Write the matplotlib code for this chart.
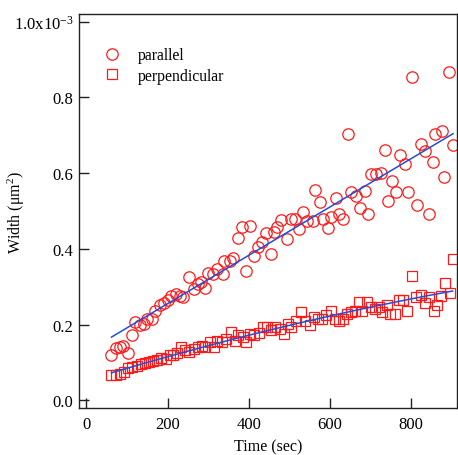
import numpy as np
import matplotlib

matplotlib.use("Agg")
import matplotlib.pyplot as plt

plt.rcParams["font.family"] = ["Liberation Serif", "DejaVu Serif"]
plt.rcParams["mathtext.fontset"] = "custom"
plt.rcParams["mathtext.rm"] = "Liberation Serif"
plt.rcParams["mathtext.it"] = "Liberation Serif:italic"

# parallel (circles), width in units of 1e-3 um^2
par_t = [62, 72, 82, 91, 103, 113, 121, 131, 142, 150, 162, 168, 181, 191, 200,
         209, 220, 230, 239, 253, 264, 274, 282, 293, 300, 311, 323, 336, 340, 353,
         362, 373, 383, 393, 402, 414, 422, 432, 443, 454, 463, 470, 480, 495, 503,
         515, 524, 534, 544, 558, 562, 575, 583, 594, 602, 614, 623, 633, 645, 652,
         663, 674, 686, 694, 701, 713, 725, 736, 742, 752, 762, 773, 785, 793, 803,
         814, 825, 833, 843, 854, 859, 876, 882, 892, 903]
par_w = [0.119, 0.138, 0.141, 0.145, 0.126, 0.173, 0.207, 0.200, 0.202, 0.215,
         0.215, 0.237, 0.252, 0.258, 0.264, 0.277, 0.281, 0.277, 0.274, 0.327,
         0.294, 0.308, 0.314, 0.297, 0.337, 0.334, 0.347, 0.334, 0.369, 0.367,
         0.375, 0.428, 0.459, 0.343, 0.460, 0.382, 0.404, 0.418, 0.441, 0.387,
         0.444, 0.459, 0.477, 0.426, 0.479, 0.479, 0.453, 0.498, 0.475, 0.475,
         0.556, 0.523, 0.479, 0.455, 0.484, 0.535, 0.492, 0.479, 0.703, 0.551,
         0.541, 0.507, 0.552, 0.492, 0.598, 0.599, 0.600, 0.662, 0.527, 0.580,
         0.549, 0.648, 0.624, 0.549, 0.855, 0.516, 0.677, 0.658, 0.492, 0.629,
         0.703, 0.712, 0.589, 0.866, 0.674]

# perpendicular (squares)
perp_t = [62, 72, 82, 92, 103, 113, 124, 134, 144, 154, 165, 175, 185, 195, 205,
          214, 224, 233, 242, 253, 264, 274, 284, 292, 304, 315, 323, 333, 344, 356,
          365, 374, 385, 393, 402, 414, 424, 435, 445, 455, 465, 476, 487, 496, 505,
          517, 528, 538, 550, 561, 571, 581, 591, 602, 612, 622, 633, 641, 652, 661,
          671, 680, 691, 700, 712, 721, 729, 740, 748, 761, 769, 781, 789, 802, 812,
          823, 833, 843, 856, 864, 873, 883, 896, 902]
perp_w = [0.066, 0.068, 0.070, 0.075, 0.085, 0.088, 0.092, 0.097, 0.098, 0.101,
          0.105, 0.108, 0.112, 0.110, 0.119, 0.120, 0.126, 0.141, 0.132, 0.127,
          0.136, 0.141, 0.145, 0.141, 0.154, 0.141, 0.158, 0.154, 0.163, 0.180,
          0.158, 0.173, 0.167, 0.154, 0.176, 0.173, 0.178, 0.193, 0.193, 0.185,
          0.193, 0.189, 0.176, 0.202, 0.193, 0.211, 0.233, 0.211, 0.198, 0.220,
          0.215, 0.215, 0.226, 0.235, 0.215, 0.211, 0.215, 0.229, 0.233, 0.237,
          0.261, 0.237, 0.261, 0.246, 0.242, 0.246, 0.233, 0.252, 0.229, 0.229,
          0.264, 0.264, 0.237, 0.328, 0.274, 0.279, 0.258, 0.273, 0.237, 0.251,
          0.277, 0.310, 0.283, 0.374]

x_ticks = [0, 200, 400, 600, 800]
y_ticks = [0.0, 0.2, 0.4, 0.6, 0.8, 1.0]
y_tick_labels = ["0.0", "0.2", "0.4", "0.6", "0.8", r"1.0x10$^{-3}$"]

red = "#ff1a1a"
blue = "#1f4fd6"

fig = plt.figure(figsize=(4.58, 4.56), dpi=100)
ax = fig.add_axes([0.1725, 0.103, 0.8255, 0.864])

ax.plot(par_t, par_w, "o", mfc="none", mec=red, ms=8.2, mew=0.9,
        label="parallel", zorder=2)
ax.plot(perp_t, perp_w, "s", mfc="none", mec=red, ms=7.2, mew=0.9,
        label="perpendicular", zorder=2)

# fit lines
t1 = np.linspace(min(par_t), max(par_t), 100)
ax.plot(t1, np.polyval(np.polyfit(par_t, par_w, 1), t1), color=blue, lw=1.1, zorder=3)
t2 = np.linspace(min(perp_t), max(perp_t), 100)
ax.plot(t2, np.polyval(np.polyfit(perp_t, perp_w, 2), t2), color=blue, lw=1.1, zorder=3)

ax.set_xlim(-18, 913)
ax.set_ylim(-0.020, 1.020)
ax.set_xticks(x_ticks)
ax.set_yticks(y_ticks)
ax.set_yticklabels(y_tick_labels)
ax.tick_params(direction="in", length=7.5, width=1.0, labelsize=12, color="#222222")
ax.tick_params(axis="x", pad=6)
ax.tick_params(axis="y", pad=4)
for s in ax.spines.values():
    s.set_linewidth(1.0)
    s.set_color("#222222")

ax.set_xlabel("Time (sec)", fontsize=11.5, labelpad=4)
ax.set_ylabel(r"Width ($\mathrm{\mu m}^2$)", fontsize=11.5)
ax.yaxis.set_label_coords(-0.138, 0.5)

ax.legend(loc="upper left", bbox_to_anchor=(0.022, 0.94), frameon=False,
          fontsize=11.3, handletextpad=0.6, labelspacing=0.3, borderaxespad=0.2)

fig.savefig("out.png", dpi=100)
